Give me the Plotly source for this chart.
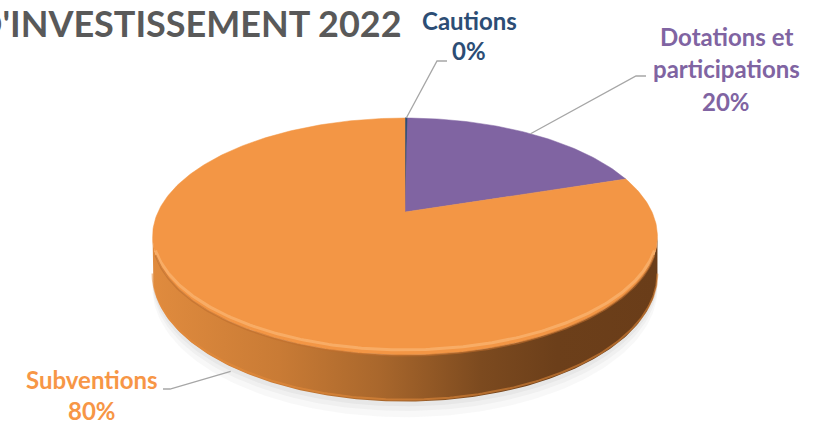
import numpy as np
import plotly.graph_objects as go

# Share of each revenue line (percent of total)
labels = ["Cautions", "Dotations et participations", "Subventions"]
label_lines = [["Cautions"], ["Dotations et", "participations"], ["Subventions"]]
values = [0.2, 19.8, 80.0]
slice_colors = ["#2C4D75", "#8064A2", "#F39645"]
text_colors = ["#2C4D75", "#8064A2", "#F79646"]
title_text = "D'INVESTISSEMENT 2022"

W, H = 823, 424

# Perspective disc: centre, half-width, depth scale, viewer distance, thickness
CX, CY = 405.0, 212.0
A, B = 247.0, 113.4
D = 4.84
T = 37.0


def proj(theta, drop=0.0):
    """Project a rim point (angle clockwise from the far side) to the page."""
    u = np.sin(theta)
    w = np.cos(theta)
    p = D / (D + w)
    return CX + A * u * p, CY - B * w * p + drop * p


total = float(sum(values))
bounds = np.concatenate([[0.0], np.cumsum(values)]) / total * 2 * np.pi

fig = go.Figure()

# soft shadow under the disc
for k, op in [(10, 0.05), (6, 0.06), (3, 0.07)]:
    th = np.linspace(0, 2 * np.pi, 240)
    sx, sy = proj(th, T + k)
    fig.add_trace(go.Scatter(x=sx, y=sy + k * 0.3, mode="lines", fill="toself",
                             fillcolor=f"rgba(120,120,120,{op})", line=dict(width=0),
                             hoverinfo="skip", showlegend=False))

# visible side band: between the left and right silhouette points
sil = np.arccos(-1.0 / D)
vis_lo, vis_hi = sil, 2 * np.pi - sil
for i in range(len(values)):
    a0, a1 = max(bounds[i], vis_lo), min(bounds[i + 1], vis_hi)
    if a1 <= a0:
        continue
    th = np.linspace(a0, a1, 200)
    tx, ty = proj(th)
    bx, by = proj(th[::-1], T)
    fig.add_trace(go.Scatter(
        x=np.concatenate([tx, bx, tx[:1]]), y=np.concatenate([ty, by, ty[:1]]),
        mode="lines", fill="toself", line=dict(width=0),
        fillgradient=dict(type="horizontal", colorscale=[
            [0.0, "#E08B3E"], [0.25, "#C97B35"], [0.45, "#A9672C"],
            [0.65, "#7C4A1F"], [0.8, "#6C3F1A"], [1.0, "#6A3D19"]]),
        hoverinfo="skip", showlegend=False))
    # light bevel along the bottom edge of the side
    lx, ly = proj(th, T - 1.5)
    fig.add_trace(go.Scatter(x=lx, y=ly, mode="lines",
                             line=dict(color="rgba(230,140,60,0.55)", width=2),
                             hoverinfo="skip", showlegend=False))

# top face wedges
for i, (lab, col) in enumerate(zip(labels, slice_colors)):
    th = np.linspace(bounds[i], bounds[i + 1], max(3, int(values[i] * 4)))
    ax, ay = proj(th)
    xs = np.concatenate([[CX], ax, [CX]])
    ys = np.concatenate([[CY], ay, [CY]])
    fig.add_trace(go.Scatter(x=xs, y=ys, mode="lines", fill="toself", fillcolor=col,
                             line=dict(color=col, width=1 if values[i] < 1 else 0.5),
                             name=lab, hoverinfo="name", showlegend=False))

# rounded highlight along the front rim of the top face
th = np.linspace(vis_lo + 0.15, vis_hi - 0.15, 200)
hx, hy = proj(th, -4)
fig.add_trace(go.Scatter(x=hx, y=hy, mode="lines",
                         line=dict(color="rgba(255,200,140,0.45)", width=3),
                         hoverinfo="skip", showlegend=False))
hx, hy = proj(th, 0.5)
fig.add_trace(go.Scatter(x=hx, y=hy, mode="lines",
                         line=dict(color="rgba(190,110,45,0.6)", width=2),
                         hoverinfo="skip", showlegend=False))

# leader lines and data labels
mids = (bounds[:-1] + bounds[1:]) / 2
leader_drop = [0.0, 0.0, T + 4]
elbows = [((437, 61), (447, 61)), ((636, 76), (646, 76)), ((170, 389), (163, 389))]
label_pos = [(469, [20], 50), (726, [36, 68], 101), (92, [379], 410)]

for i in range(len(values)):
    sx, sy = proj(mids[i], leader_drop[i])
    (ex, ey), (fx, fy) = elbows[i]
    fig.add_trace(go.Scatter(x=[sx, ex, fx], y=[sy, ey, fy], mode="lines",
                             line=dict(color="#A6A6A6", width=1.3),
                             hoverinfo="skip", showlegend=False))
    lx, line_ys, pct_y = label_pos[i]
    for txt, ly in zip(label_lines[i], line_ys):
        fig.add_annotation(x=lx, y=ly, text=f"<b>{txt}</b>", showarrow=False,
                           xanchor="center", yanchor="middle",
                           font=dict(family="Lato", size=24, color=text_colors[i]))
    pct = round(values[i] / total * 100)
    fig.add_annotation(x=lx, y=pct_y, text=f"<b>{pct}%</b>", showarrow=False,
                       xanchor="center", yanchor="middle",
                       font=dict(family="Lato", size=24, color=text_colors[i]))

# chart title, running off the left edge
fig.add_annotation(x=404, y=23, text=f"<b>{title_text}</b>", showarrow=False,
                   xanchor="right", yanchor="middle",
                   font=dict(family="Lato", size=36, color="#595959"))

fig.update_layout(
    width=W, height=H, margin=dict(l=0, r=0, t=0, b=0),
    paper_bgcolor="white", plot_bgcolor="white",
    xaxis=dict(range=[0, W], visible=False, fixedrange=True),
    yaxis=dict(range=[H, 0], visible=False, fixedrange=True),
)

fig.write_html("out.html")
